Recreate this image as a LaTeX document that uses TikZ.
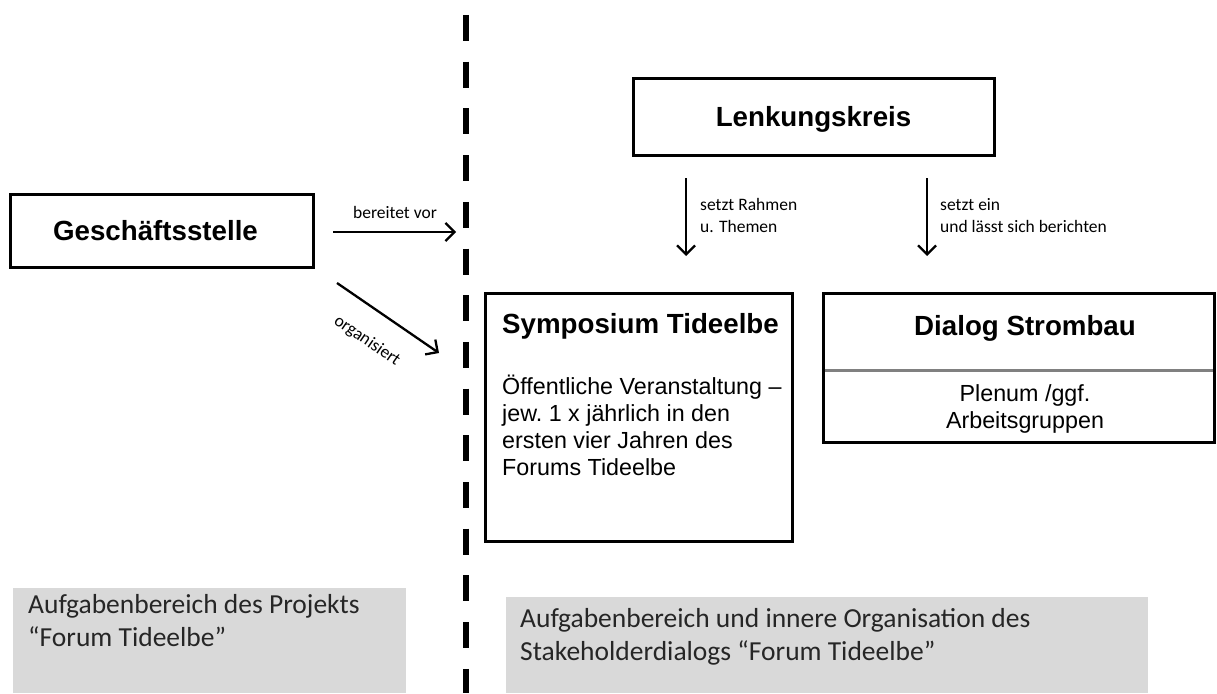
\documentclass[tikz,border=0pt]{standalone}
\usepackage{fontspec}
\setmainfont{Liberation Sans}
\newfontfamily\carfont{Carlito}
\usetikzlibrary{arrows.meta}
\begin{document}
\begin{tikzpicture}[x=1pt,y=-1pt,
  box/.style={draw=black,line width=3pt,fill=white},
  graybox/.style={fill=black!15,draw=none},
  arr/.style={line width=2.3pt,-{Straight Barb[length=9pt,width=18pt,line width=2.3pt]}},
  small/.style={font=\carfont\fontsize{17.5}{22}\selectfont,align=left,inner sep=0pt},
  title/.style={font=\bfseries\fontsize{27.7}{32}\selectfont,inner sep=0pt},
  body/.style={font=\fontsize{23.3}{26.7}\selectfont,inner sep=0pt},
  graytext/.style={font=\carfont\fontsize{27.5}{33}\selectfont,align=left,inner sep=0pt,text=black!85}]
\useasboundingbox (0,0) rectangle (1217,693);
% divider
\coordinate (dtop) at (466,15);
\coordinate (dbot) at (466,693);
\draw[line width=6pt,dash pattern=on 26pt off 20.7pt] (dtop) -- (dbot);
% boxes
\draw[box] (10,194) rectangle (313,267);
\node[title,anchor=base] (gs) at (155.5,240) {Geschäftsstelle};
\draw[box] (633,78) rectangle (994,155);
\node[title,anchor=base] (lk) at (813.5,126) {Lenkungskreis};
\draw[box] (485,293) rectangle (792,541);
\node[title,anchor=base west] (sy) at (502,333) {Symposium Tideelbe};
\node[body,anchor=base west,align=left] (syb) at (502,475) {Öffentliche Veranstaltung –\\jew.\ 1 x jährlich in den\\ersten vier Jahren des\\Forums Tideelbe};
\draw[box] (823,293) rectangle (1214,442);
\draw[line width=3pt,black!50] (824.5,370) -- (1212.5,370);
\node[title,anchor=base] (ds) at (1025,335) {Dialog Strombau};
\node[body,anchor=base,align=center] (dsb) at (1025,428) {Plenum /ggf.\\Arbeitsgruppen};
% gray boxes
\fill[graybox] (13,588) rectangle (406,693);
\node[graytext,anchor=base west] (g1) at (28,646) {Aufgabenbereich des Projekts\\“Forum Tideelbe”};
\fill[graybox] (506,597) rectangle (1148,693);
\node[graytext,anchor=base west] (g2) at (520,660) {Aufgabenbereich und innere Organisation des\\Stakeholderdialogs “Forum Tideelbe”};
% arrows
\coordinate (a1s) at (686,178); \coordinate (a1e) at (686,256);
\draw[arr] (a1s) -- (a1e);
\node[small,anchor=base west] (l1) at (700,232) {setzt Rahmen\\u. Themen};
\coordinate (a2s) at (927,178); \coordinate (a2e) at (927,256);
\draw[arr] (a2s) -- (a2e);
\node[small,anchor=base west] (l2) at (940,232) {setzt ein\\und lässt sich berichten};
\coordinate (b1s) at (333,232); \coordinate (b1e) at (456,232);
\draw[arr] (b1s) -- (b1e);
\node[small,anchor=base] (l3) at (395,218) {bereitet vor};
\coordinate (o1s) at (337,283); \coordinate (o1e) at (439,353);
\draw[arr] (o1s) -- (o1e);
\node[small,rotate=-34.5] (l4) at (367,341) {organisiert};
\end{tikzpicture}
\end{document}
